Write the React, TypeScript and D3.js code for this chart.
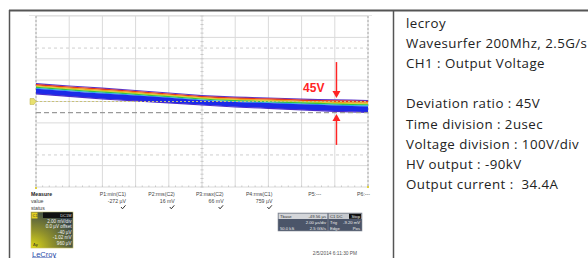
import React from 'react';
import * as d3 from 'd3';

// trace envelope (volts, 2 us/div, 100 V/div)
const timeUs = [0, 2, 4, 6, 8, 10, 12, 14, 16, 18, 20];
const bandTopV = [86, 75, 65, 54, 42, 30, 23, 19, 14, 10, 7];
const bandBottomV = [33, 21, 9, 0, -9, -19, -28, -35, -42, -49, -54];
const dottedLevelsV = [250, -250];
const cursorLevelV = -52;
const groundLevelV = 0;

// deviation annotation
const arrowTimeUs = 18.1;
const arrowUpperV = 16;
const arrowLowerV = -58;
const deviationLabel = '45V';

const measureLabels = ['P1:min(C1)', 'P2:rms(C2)', 'P3:max(C2)', 'P4:rms(C1)', 'P5:---', 'P6:---'];
const measureValues = ['-272 µV', '16 mV', '66 mV', '759 µV', '', ''];
const measureStatus = [true, true, true, true, false, false];

const ch1Lines = ['2.00 mV/div', '0.0 µV offset', '-40 µV', '-1.02 mV', '960 µV'];
const tbaseLines = [['Tbase', '-49.56 µs'], ['', '2.00 µs/div'], ['50.0 kS', '2.5 GS/s']];
const trigLines = [['C1 DC', 'Stop'], ['Trig', '-9.20 mV'], ['Edge', 'Pos']];

const infoLines = [
  'lecroy',
  'Wavesurfer 200Mhz, 2.5G/s',
  'CH1 : Output Voltage',
  '',
  'Deviation ratio : 45V',
  'Time division : 2usec',
  'Voltage division : 100V/div',
  'HV output : -90kV',
  'Output current :  34.4A',
];

// persistence colour layers, as fraction of the band from top to bottom
const layers = [
  { from: 0, to: 0.1, color: '#5a34c8' },
  { from: 0.08, to: 0.2, color: '#e8341e' },
  { from: 0.18, to: 0.28, color: '#f0a020' },
  { from: 0.26, to: 0.34, color: '#cfd21e' },
  { from: 0.32, to: 0.43, color: '#38c43c' },
  { from: 0.41, to: 0.51, color: '#2eaee6' },
  { from: 0.49, to: 0.93, color: '#1c2ae8' },
  { from: 0.9, to: 1, color: '#4a2ccc' },
];

const W = 588;
const H = 258;

export default function App() {
  const x = d3.scaleLinear().domain([0, 20]).range([36, 368]);
  const y = d3.scaleLinear().domain([-400, 400]).range([187, 16]);

  const pts = timeUs.map((t, i) => ({ t, top: bandTopV[i], bot: bandBottomV[i] }));

  const layerArea = (from: number, to: number) =>
    d3.area<{ t: number; top: number; bot: number }>()
      .x(d => x(d.t))
      .y0(d => y(d.top + (d.bot - d.top) * to))
      .y1(d => y(d.top + (d.bot - d.top) * from))
      .curve(d3.curveMonotoneX)(pts) || '';

  const xTicks = d3.range(0, 21, 2);
  const yTicks = d3.range(-400, 401, 100);
  const minorX = d3.range(0, 20.01, 0.4);
  const minorY = d3.range(-400, 400.01, 20);

  const ax = x(arrowTimeUs);
  const upTip = y(arrowUpperV);
  const lowTip = y(arrowLowerV);
  const red = '#ff2424';

  const colX = d3.scaleLinear().domain([0, 5]).range([126, 370]);

  return (
    <div style={{ position: 'fixed', left: 0, top: 0 }}>
      <svg width={W} height={H} style={{ display: 'block', background: '#fff' }}>
        <defs>
          <radialGradient id="c1bg" cx="0" cy="1" r="1.15">
            <stop offset="0" stopColor="#e2dc16" />
            <stop offset="0.45" stopColor="#8e8f2c" />
            <stop offset="1" stopColor="#33434c" />
          </radialGradient>
          <filter id="soft" x="-5%" y="-20%" width="110%" height="140%">
            <feGaussianBlur stdDeviation="0.4" />
          </filter>
        </defs>

        {/* table frame */}
        <line x1={9} x2={W} y1={10.5} y2={10.5} stroke="#555" strokeWidth={2} />
        <line x1={9.5} x2={9.5} y1={10} y2={H} stroke="#555" strokeWidth={1.5} />
        <line x1={393.5} x2={393.5} y1={10} y2={H} stroke="#555" strokeWidth={1.5} />

        {/* screen grid */}
        <line x1={29} x2={372} y1={15.5} y2={15.5} stroke="#e6e6e6" />
        {xTicks.map(t => (
          <line key={'gx' + t} x1={x(t)} x2={x(t)} y1={y(400)} y2={y(-400)} stroke="#dadada" />
        ))}
        {yTicks.map(v => (
          <line key={'gy' + v} x1={x(0)} x2={x(20)} y1={y(v)} y2={y(v)} stroke="#dadada" />
        ))}
        {minorY.map(v => (
          <line key={'my' + v} x1={x(10) - 1.5} x2={x(10) + 1.5} y1={y(v)} y2={y(v)} stroke="#c8c8c8" />
        ))}
        {minorX.map(t => (
          <line key={'mx' + t} x1={x(t)} x2={x(t)} y1={y(-400) - 1.5} y2={y(-400)} stroke="#c8c8c8" />
        ))}
        {[0, 20].map(t => (
          <line key={'edge' + t} x1={x(t)} x2={x(t)} y1={y(400)} y2={y(-400)} stroke="#a8a8a8" strokeDasharray="2,2" />
        ))}
        {dottedLevelsV.map(v => (
          <line key={'dl' + v} x1={x(0)} x2={x(20)} y1={y(v)} y2={y(v)} stroke="#cfcfcf" strokeDasharray="3,3" />
        ))}

        {/* persistence trace */}
        <g filter="url(#soft)">
          {layers.map((l, i) => (
            <path key={'ly' + i} d={layerArea(l.from, l.to)} fill={l.color} />
          ))}
        </g>

        <line x1={x(0)} x2={x(20)} y1={y(groundLevelV)} y2={y(groundLevelV)} stroke="#c9c27a" strokeDasharray="2,2" />
        <line x1={x(0)} x2={x(20)} y1={y(cursorLevelV)} y2={y(cursorLevelV)} stroke="#9a9a9a" strokeDasharray="5,3" strokeWidth={1.2} />
        <path
          d={`M${x(0) - 6},${y(groundLevelV) - 3}h4l2,3l-2,3h-4z`}
          fill="#e8e070" stroke="#b8ae40" strokeWidth={0.5}
        />
        <rect x={x(0) - 1} y={y(-400)} width={2} height={2} fill="#e0d040" />
        <rect x={x(20) - 1} y={y(-400) - 1} width={2} height={2} fill="#e0d040" />

        {/* deviation arrows */}
        <line x1={ax} x2={ax} y1={upTip - 36} y2={upTip - 6} stroke={red} strokeWidth={1.5} />
        <path d={`M${ax - 4},${upTip - 7}L${ax + 4},${upTip - 7}L${ax},${upTip}Z`} fill={red} />
        <line x1={ax} x2={ax} y1={lowTip + 6} y2={lowTip + 31} stroke={red} strokeWidth={1.5} />
        <path d={`M${ax - 4},${lowTip + 7}L${ax + 4},${lowTip + 7}L${ax},${lowTip}Z`} fill={red} />
        <text x={ax - 12} y={upTip - 6} textAnchor="end" fontFamily="Arial, Liberation Sans, sans-serif"
          fontWeight="bold" fontSize={12} fill={red}>{deviationLabel}</text>

        {/* measure table */}
        <g fontFamily="Arial, Liberation Sans, sans-serif" fontSize={5.2} fill="#444">
          <text x={31} y={195.5} fontWeight="bold" fill="#222">Measure</text>
          <text x={31} y={202.5}>value</text>
          <text x={31} y={209.5}>status</text>
          {measureLabels.map((m, i) => (
            <text key={'ml' + i} x={colX(i)} y={195.5} textAnchor="end">{m}</text>
          ))}
          {measureValues.map((m, i) => (
            <text key={'mv' + i} x={colX(i)} y={202.5} textAnchor="end">{m}</text>
          ))}
          {measureStatus.map((s, i) => s ? (
            <path key={'ms' + i} d={`M${colX(i) - 5},${207}l1.5,1.8l3,-3.5`} fill="none" stroke="#333" strokeWidth={1} />
          ) : null)}
        </g>

        {/* C1 channel box */}
        <g fontFamily="Arial, Liberation Sans, sans-serif" fontSize={4.6}>
          <rect x={31} y={212} width={42} height={36} fill="url(#c1bg)" stroke="#c9c060" strokeWidth={0.6} />
          <rect x={31.5} y={212.5} width={6} height={6} fill="#e2d020" />
          <text x={32.5} y={217.3} fill="#333" fontSize={4}>C1</text>
          <rect x={43} y={212.5} width={29.5} height={5.5} fill="#111" />
          <text x={71.5} y={216.8} textAnchor="end" fill="#ddd" fontSize={4}>DC1M</text>
          {ch1Lines.map((l, i) => (
            <text key={'c1' + i} x={71.5} y={222.5 + i * 5.6} textAnchor="end" fill="#f2f2f2">{l}</text>
          ))}
          <text x={33} y={245.5} fill="#222" fontSize={4}>Δy</text>
        </g>
        <text x={32} y={256.5} fontFamily="Arial, Liberation Sans, sans-serif" fontSize={7.5} fill="#2a4aa8"
          textDecoration="underline">LeCroy</text>

        {/* timebase / trigger box */}
        <g fontFamily="Arial, Liberation Sans, sans-serif" fontSize={4.2}>
          <rect x={278} y={213} width={84} height={18} fill="#4b5569" stroke="#8a8f9a" strokeWidth={0.6} />
          <rect x={278.5} y={213.5} width={49} height={5.5} fill="#d4d6da" />
          <rect x={328.5} y={213.5} width={33} height={5.5} fill="#c6c9ce" />
          <rect x={349} y={213.8} width={12} height={5} fill="#111" />
          <line x1={328} x2={328} y1={213} y2={231} stroke="#8a8f9a" strokeWidth={0.6} />
          {tbaseLines.map((r, i) => (
            <g key={'tb' + i} fill={i === 0 ? '#333' : '#eee'}>
              <text x={280} y={217.8 + i * 6}>{r[0]}</text>
              <text x={326} y={217.8 + i * 6} textAnchor="end">{r[1]}</text>
            </g>
          ))}
          {trigLines.map((r, i) => (
            <g key={'tr' + i} fill={i === 0 ? '#333' : '#eee'}>
              <text x={330} y={217.8 + i * 6}>{r[0]}</text>
              <text x={360} y={217.8 + i * 6} textAnchor="end" fill="#eee">{r[1]}</text>
            </g>
          ))}
        </g>
        <text x={357} y={255} textAnchor="end" fontFamily="Arial, Liberation Sans, sans-serif" fontSize={4.8} fill="#555">
          2/5/2014 6:11:30 PM
        </text>

        {/* right-hand notes */}
        <g fontFamily="'Open Sans', 'Noto Sans', sans-serif" fontSize={13.3} fill="#222" letterSpacing={0.45}>
          {infoLines.map((l, i) => (
            <text key={'in' + i} x={406} y={27.5 + i * 20.2} style={{ whiteSpace: 'pre' }}>{l}</text>
          ))}
        </g>
      </svg>
    </div>
  );
}
